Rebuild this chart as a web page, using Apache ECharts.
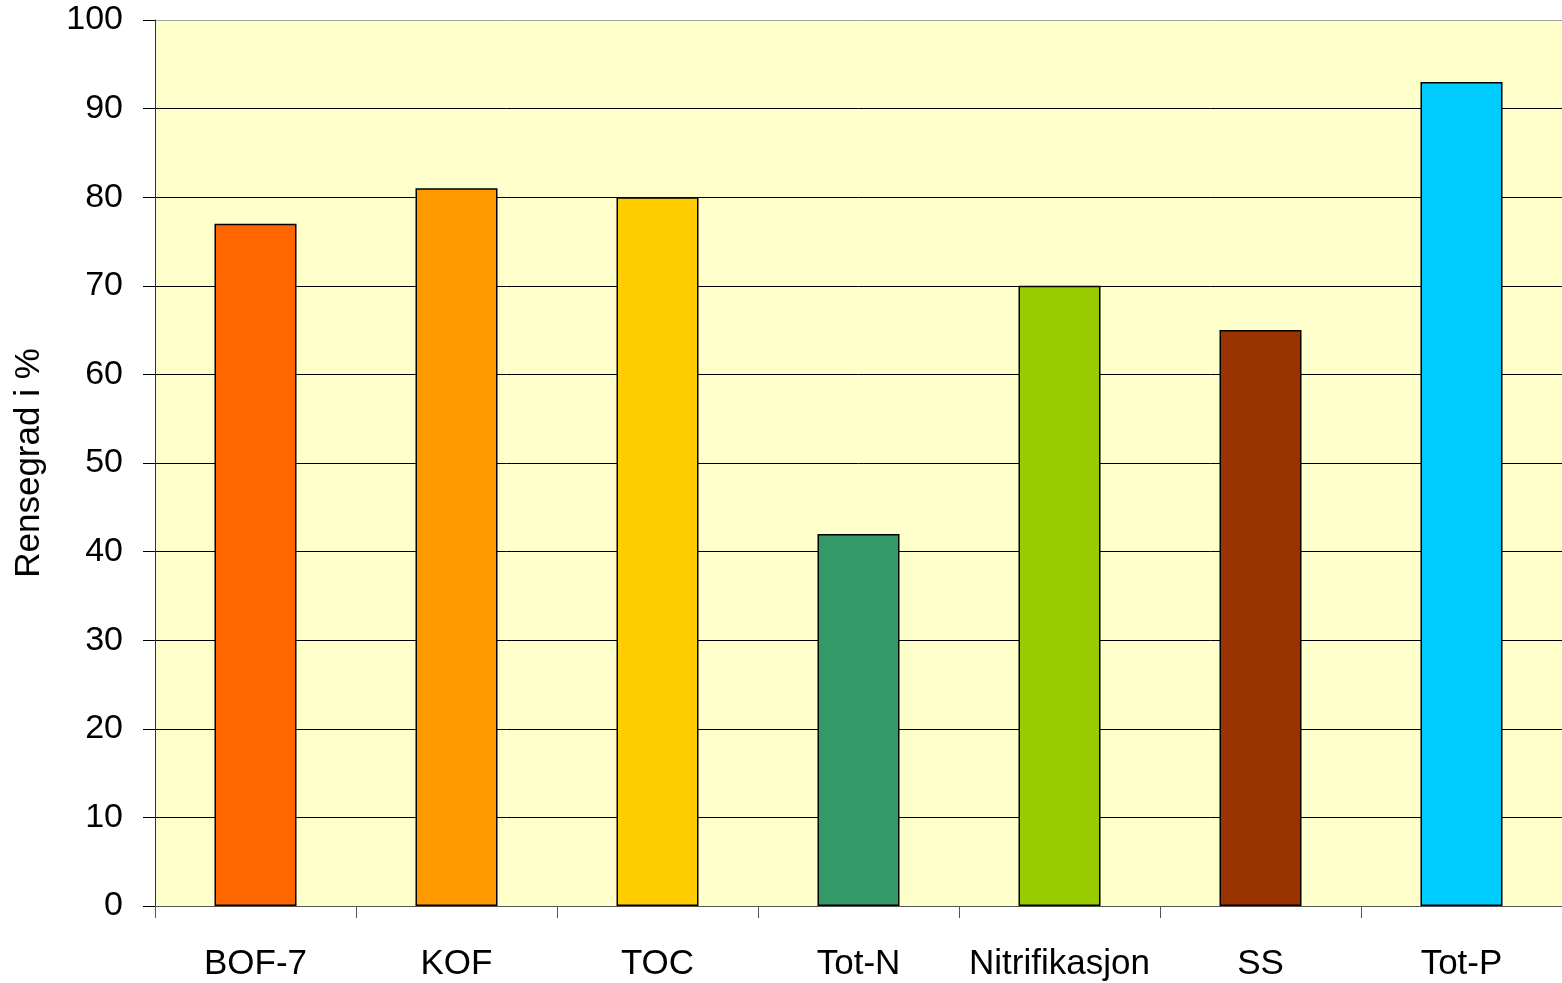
<!DOCTYPE html>
<html>
<head>
<meta charset="utf-8">
<script src="https://cdn.jsdelivr.net/npm/echarts@6/dist/echarts.min.js"></script>
<style>html,body{margin:0;padding:0;background:#fff}#c{width:1562px;height:983px}</style>
</head>
<body>
<div id="c"></div>
<script>
const categories = ['BOF-7', 'KOF', 'TOC', 'Tot-N', 'Nitrifikasjon', 'SS', 'Tot-P'];
const values = [77, 81, 80, 42, 70, 65, 93];
const barColors = ['#FF6600', '#FF9900', '#FFCC00', '#339966', '#99CC00', '#993300', '#00CCFF'];
const yTicks = { min: 0, max: 100, interval: 10 };
const yName = 'Rensegrad i %';

const chart = echarts.init(document.getElementById('c'));
const splitColors = [];
for (let v = yTicks.min; v <= yTicks.max; v += yTicks.interval) {
  splitColors.push(v === yTicks.max ? '#A0A0A0' : '#000000');
}
chart.setOption({
  animation: false,
  grid: { left: 155, top: 20, right: 0, bottom: 77, show: true, backgroundColor: '#FFFFCC', borderWidth: 0 },
  xAxis: {
    type: 'category',
    data: categories,
    axisLine: { show: true, lineStyle: { color: '#555', width: 1 } },
    axisTick: { show: true, length: 12, interval: 0, lineStyle: { color: '#555' } },
    axisLabel: { color: '#000', fontFamily: 'Liberation Sans, Arial', fontSize: 35, margin: 41, interval: 0 },
    splitLine: { show: false }
  },
  yAxis: {
    type: 'value',
    min: yTicks.min, max: yTicks.max, interval: yTicks.interval,
    name: yName,
    nameLocation: 'middle',
    nameGap: 108,
    nameRotate: 90,
    nameTextStyle: { color: '#000', fontFamily: 'Liberation Sans, Arial', fontSize: 35 },
    axisLine: { show: true, lineStyle: { color: '#333', width: 1 } },
    axisTick: { show: true, length: 12, inside: false, lineStyle: { color: '#000' } },
    axisLabel: { color: '#000', fontFamily: 'Liberation Sans, Arial', fontSize: 34, margin: 32, padding: [6, 0, 0, 0] },
    splitLine: { show: true, lineStyle: { color: splitColors, width: 1 } }
  },
  series: [{
    type: 'bar',
    data: values.map((v, i) => ({ value: v, itemStyle: { color: barColors[i] } })),
    barWidth: 82,
    itemStyle: { borderColor: '#000', borderWidth: 1.5 }
  }]
});
</script>
</body>
</html>
